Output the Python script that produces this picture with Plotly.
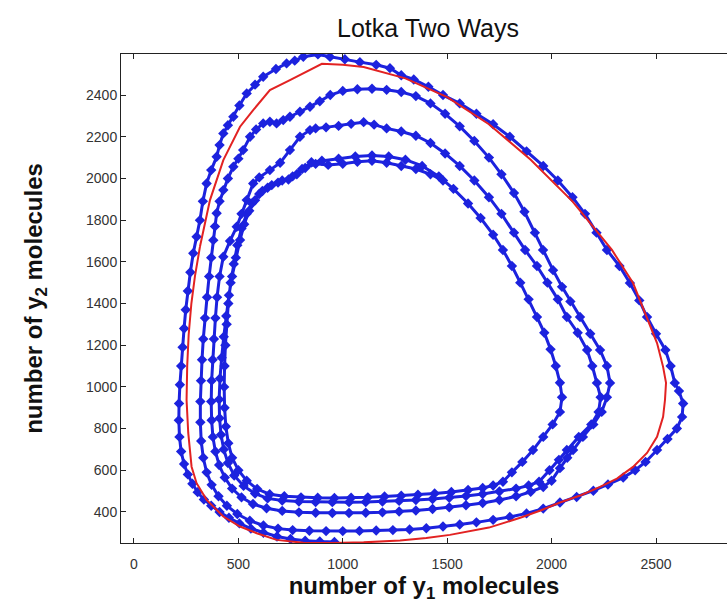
import plotly.graph_objects as go

# ---------------- data ----------------
# stochastic trajectory (blue diamonds), split into consecutive pieces
start_seg = [(1480,1990),(1420,2020),(1350,2045),(1280,2060),(1210,2075),(1140,2085),
             (1070,2080),(1000,2070),(930,2065),(870,2070)]

rev0 = [(820,2050),(780,2020),(740,1995),(690,1980),(640,1955),(600,1925),(565,1880),(540,1830),
        (515,1760),(495,1680),(478,1590),(463,1500),(452,1400),(444,1300),(438,1200),(434,1100),
        (432,1000),(434,900),(440,810),(452,730),(470,660),(500,600),(540,550),(590,510),(650,485),
        (720,475),(800,470),(880,468),(960,467),(1040,468),(1120,470),(1200,474),(1280,478),
        (1360,483),(1440,489),(1520,496),(1600,505),(1670,515),(1720,527),(1767,545),
        (1810,590),(1860,640),(1911,697),(1960,760),(2005,820),(2040,880),(2050,950),(2040,1020),
        (2020,1100),(1995,1180),(1965,1260),(1930,1335),(1890,1420),(1850,1500),(1810,1580),
        (1767,1657),(1720,1730),(1660,1810),(1600,1880),(1530,1950),(1460,2010),(1380,2060),
        (1300,2090),(1220,2105),(1140,2110),(1060,2105),(980,2095),(900,2085)]

rev1 = [(850,2078),(805,2045),(760,2010),(710,1990),(660,1968),(615,1940),(580,1895),(552,1845),
        (528,1780),(508,1705),(488,1620),(470,1530),(455,1440),(442,1340),(430,1240),(420,1140),
        (412,1040),(408,940),(410,850),(417,770),(430,700),(450,635),(480,575),(525,525),(580,488),
        (640,465),(710,455),(790,450),(870,448),(950,447),(1030,447),(1110,448),(1190,450),
        (1270,453),(1350,457),(1430,462),(1510,468),(1590,476),(1670,486),(1750,498),(1830,512),
        (1890,527),(1940,545),(1990,600),(2035,650),(2073,697),(2130,760),(2190,820),(2225,880),
        (2235,950),(2217,1019),(2195,1100),(2170,1177),(2125,1260),(2073,1335),(2030,1420),
        (1980,1500),(1930,1580),(1873,1657),(1820,1740),(1760,1830),(1700,1910),(1630,1990),
        (1560,2060),(1490,2120),(1420,2170),(1350,2205),(1280,2225),(1210,2240),(1150,2258),
        (1100,2270),(1040,2262),(980,2252),(920,2245),(870,2240)]

rev2 = [(843,2232),(795,2200),(747,2136),(700,2075),(651,2040),(600,2005),(571,1976),(540,1896),
        (515,1830),(492,1768),(460,1700),(428,1624),(410,1530),(398,1430),(390,1330),(383,1230),
        (377,1130),(372,1030),(370,930),(372,840),(378,760),(390,690),(408,625),(435,565),
        (470,512),(515,470),(570,438),(635,418),(710,405),(790,398),(870,396),(950,395),
        (1030,395),(1110,396),(1190,398),(1270,402),(1350,407),(1430,414),(1510,422),(1590,432),
        (1670,443),(1750,457),(1830,475),(1900,497),(1960,520),(2000,550),(2040,610),(2075,660),
        (2103,697),(2150,760),(2200,820),(2240,880),(2265,950),(2280,1019),(2265,1100),
        (2232,1177),(2185,1255),(2136,1335),(2090,1410),(2050,1480),(2007,1560),(1959,1657),
        (1920,1740),(1870,1840),(1820,1930),(1760,2020),(1700,2100),(1630,2180),(1560,2250),
        (1490,2310),(1420,2360),(1350,2395),(1280,2415),(1210,2425),(1140,2430),(1070,2428),
        (1000,2420),(940,2400),(890,2370)]

rev3 = [(843,2344),(795,2320),(747,2296),(715,2280),(683,2264),(651,2272),(619,2264),(585,2235),
        (556,2200),(523,2136),(500,2095),(476,2056),(450,2000),(428,1944),(410,1890),(396,1833),
        (388,1770),(380,1704),(370,1620),(360,1530),(350,1430),(340,1330),(332,1230),(326,1130),
        (321,1030),(318,930),(318,830),(322,740),(332,660),(348,590),(372,530),(405,475),
        (445,430),(495,390),(555,358),(620,335),(690,320),(760,313),(840,310),(920,308),
        (1000,308),(1080,309),(1160,311),(1240,313),(1320,316),(1400,322),(1480,330),(1560,340),
        (1640,350),(1720,362),(1800,376),(1880,393),(1960,416),(2040,445),(2120,472),(2200,502),
        (2270,532),(2343,565),(2400,600),(2450,640),(2505,697),(2555,750),(2600,800),(2625,856),
        (2630,920),(2610,980),(2590,1019),(2570,1100),(2545,1177),(2500,1255),(2457,1335),
        (2420,1415),(2375,1498),(2325,1580),(2265,1657),(2215,1740),(2160,1830),(2100,1910),
        (2030,1990),(1960,2060),(1880,2130),(1800,2200),(1720,2260),(1640,2310),(1560,2360),
        (1480,2400),(1410,2440),(1340,2475),(1280,2495),(1226,2529),(1160,2545),(1082,2558),
        (1010,2572),(939,2583),(881,2595)]

rev4 = [(811,2584),(770,2565),(731,2552),(680,2525),(619,2488),(580,2450),(540,2408),(505,2350),
        (476,2296),(450,2255),(428,2216),(410,2160),(396,2104),(370,2040),(348,1976),(330,1890),
        (316,1800),(300,1720),(284,1641),(270,1550),(258,1460),(248,1370),(240,1280),(233,1190),
        (226,1100),(220,1010),(216,920),(215,840),(218,760),(226,690),(240,630),(258,580),
        (280,535),(305,495),(335,460),(370,430),(410,400),(455,372),(505,345),(560,320),
        (620,300),(685,282),(750,270),(820,262),(890,258),(960,256)]

# deterministic solution (red line)
red_x = [316,364,428,508,571,651,747,843,900,1000,1100,1300,1500,1700,1900,2100,2289,2390,2457,
         2505,2534,2548,2543,2534,2505,2457,2390,2313,2232,2140,2040,1950,1850,1700,1513,1400,
         1274,1100,950,811,683,588,508,428,348,300,276,260,252,255,262,275,292,316]
red_y = [1672,1896,2088,2248,2328,2424,2472,2520,2550,2545,2535,2480,2390,2260,2090,1890,1657,
         1498,1335,1210,1096,1019,937,856,760,683,616,560,520,480,445,408,372,325,290,275,
         263,254,251,252,266,298,330,378,458,538,617,779,937,1100,1250,1400,1530,1672]

x_ticks = [0, 500, 1000, 1500, 2000, 2500]
y_ticks = [400, 600, 800, 1000, 1200, 1400, 1600, 1800, 2000, 2200, 2400]

title_text = "Lotka Two Ways"
x_label = "number of y<sub>1</sub> molecules"
y_label = "number of y<sub>2</sub> molecules"

# ---------------- figure ----------------
segments = [start_seg, rev0, rev1, rev2, rev3, rev4]
blue_x = [p[0] for seg in segments for p in seg]
blue_y = [p[1] for seg in segments for p in seg]

BLUE = "rgb(28,34,222)"
RED = "rgb(226,34,34)"
FONT = "Liberation Sans, Arial, sans-serif"

fig = go.Figure()
fig.add_trace(go.Scatter(
    x=blue_x, y=blue_y, mode="lines+markers",
    line=dict(color=BLUE, width=3),
    marker=dict(symbol="diamond", size=8, color=BLUE, line=dict(width=0)),
    showlegend=False, hoverinfo="skip"))
fig.add_trace(go.Scatter(
    x=red_x, y=red_y, mode="lines",
    line=dict(color=RED, width=2),
    showlegend=False, hoverinfo="skip"))

fig.update_layout(
    width=727, height=605,
    margin=dict(l=121, r=0, t=54, b=62, autoexpand=False),
    paper_bgcolor="white", plot_bgcolor="white",
    font=dict(family=FONT, color="#222"),
    title=dict(text=title_text, x=428/727, xanchor="center", xref="container",
               y=1-28/605, yanchor="middle", yref="container",
               font=dict(size=25, color="#111", family=FONT)),
)
fig.update_xaxes(
    range=[-62, 2840], tickvals=x_ticks, ticks="inside", ticklen=5, tickcolor="#222",
    showline=True, linecolor="#222", linewidth=1, mirror="ticks", showgrid=False,
    zeroline=False, tickfont=dict(size=14, color="#333"), ticklabelstandoff=8,
    title=dict(text=x_label, font=dict(size=24, color="#111", weight="bold"), standoff=2))
fig.update_yaxes(
    range=[251, 2597], tickvals=y_ticks, ticks="inside", ticklen=5, tickcolor="#222",
    showline=True, linecolor="#222", linewidth=1, mirror=False, showgrid=False,
    zeroline=False, tickfont=dict(size=14, color="#333"),
    title=dict(text=y_label, font=dict(size=24, color="#111", weight="bold"), standoff=36))

fig.write_html("out.html")
